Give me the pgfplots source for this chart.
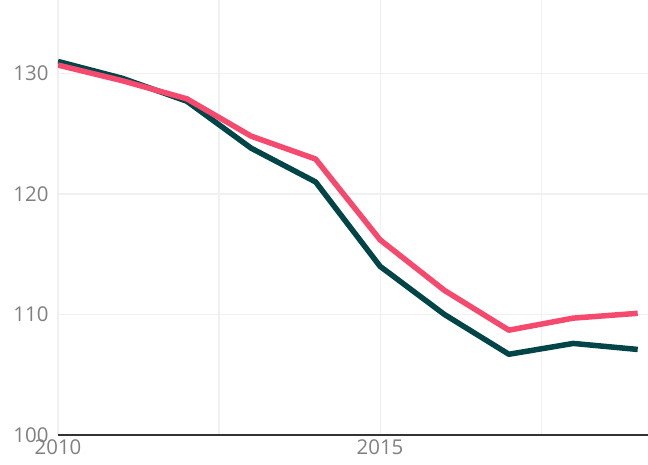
\documentclass[border=0pt]{standalone}
\usepackage{fontspec}
\setmainfont{Open Sans}
\usepackage{pgfplots}
\pgfplotsset{compat=1.18}
\definecolor{darkteal}{HTML}{014548}
\definecolor{pinkred}{HTML}{F5496E}
\definecolor{ticktext}{HTML}{808080}
\begin{document}
\begin{tikzpicture}
\begin{axis}[
  name=ax,
  at={(0,0)},
  scale only axis,
  width=590bp, height=435bp,
  xmin=2010, xmax=2019.16,
  ymin=100, ymax=136.1,
  xtick={2010,2015},
  minor xtick={2012.5,2017.5},
  ytick={100,110,120,130},
  xticklabel style={/pgf/number format/1000 sep={}},
  /pgf/number format/assume math mode=true,
  tick label style={font=\fontsize{20.5}{20.5}\selectfont, text=ticktext},
  xtick pos=bottom, ytick pos=left,
  major tick length=0pt, minor tick length=0pt,
  xmajorgrids, xminorgrids, ymajorgrids,
  grid style={color=black!6, line width=1.1bp},
  minor grid style={color=black!6, line width=1.1bp},
  axis x line*=bottom,
  axis y line*=left,
  x axis line style={draw=black!80, line width=1.8bp, -},
  y axis line style={draw=none},
  xticklabel shift=1bp,
  yticklabel shift=6bp,
  clip=true,
]
\coordinate (sw) at (rel axis cs:0,0);
\coordinate (ne) at (rel axis cs:1,1);
\addplot[color=darkteal, line width=5.5bp, line join=round] coordinates {
(2010,131.0) (2011,129.6) (2012,127.7) (2013,123.8) (2014,121.0)
(2015,114.0) (2016,110.0) (2017,106.7) (2018,107.6) (2019,107.1)
};
\addplot[color=pinkred, line width=5.5bp, line join=round] coordinates {
(2010,130.7) (2011,129.4) (2012,127.9) (2013,124.8) (2014,122.9)
(2015,116.2) (2016,112.0) (2017,108.7) (2018,109.7) (2019,110.1)
};
\end{axis}
\pgfresetboundingbox
\path ([shift={(-58bp,-29bp)}]sw) rectangle (ne);
\end{tikzpicture}
\end{document}
